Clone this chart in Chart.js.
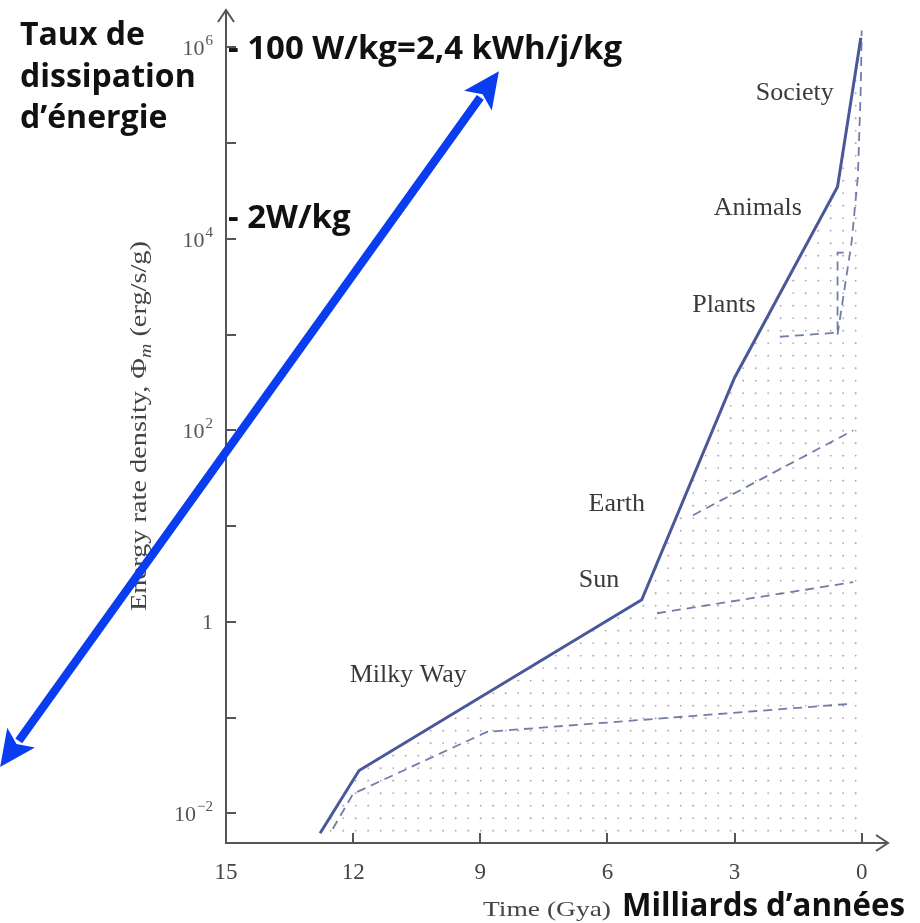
<!DOCTYPE html>
<html>
<head>
<meta charset="utf-8">
<script src="https://cdn.jsdelivr.net/npm/chart.js@4.4.1/dist/chart.umd.min.js"></script>
<style>
  html, body { margin: 0; padding: 0; background: #ffffff; }
  #wrap { width: 920px; height: 923px; }
</style>
</head>
<body>
<div id="wrap"><canvas id="c" width="920" height="923"></canvas></div>
<script>
// Time before present (Gya) and energy rate density (erg/s/g)
const mainTime   = [12.78, 11.86, 5.19, 3.0, 0.57, 0.02];
const mainRate   = [0.0062, 0.028, 1.7, 355, 35000, 1260000];
const galaxyTime = [12.48, 12.0, 8.84, 0.2];
const galaxyRate = [0.0069, 0.016, 0.071, 0.14];
const starTime   = [4.83, 0.2];
const starRate   = [1.23, 2.6];
const planetTime = [3.98, 0.2];
const planetRate = [13, 100];
const plantTime  = [1.93, 0.57, 0.57, 0.35];
const plantRate  = [950, 1050, 7200, 7200];
const animalTime = [0.57, 0.24, 0.09, 0.02, 0.0];
const animalRate = [1000, 9100, 44700, 400000, 1500000];

// Axis ticks
const xTicks = [15, 12, 9, 6, 3, 0];
const yDecades = [-2, -1, 0, 1, 2, 3, 4, 5, 6];
const yLabelExp = [-2, 0, 2, 4, 6];

// Stage names along the curve: [text, time, rate]
const stageNames = [
  ['Society', 1.58, 330000],
  ['Animals', 2.45, 21000],
  ['Plants', 3.25, 2040],
  ['Earth', 5.78, 17],
  ['Sun', 6.2, 2.7],
  ['Milky Way', 10.7, 0.28]
];
// Reference power levels marked on the rate axis
const powerMarks = [
  ['- 100 W/kg=2,4 kWh/j/kg', 1000000],
  ['- 2W/kg', 17000]
];
// Double-headed arrow ends: [time, rate]
const arrowEnds = [[20.33, Math.pow(10, -1.515)], [8.56, Math.pow(10, 5.75)]];

const pts = (t, r) => t.map((v, i) => ({ x: v, y: r[i] }));

// Stipple used to shade the region below the curve
const tile = document.createElement('canvas');
tile.width = 25; tile.height = 25;
const tc = tile.getContext('2d');
tc.fillStyle = 'rgba(70,72,95,0.55)';
tc.fillRect(5, 5, 1.4, 1.4);
tc.fillRect(17.5, 17.5, 1.4, 1.4);
tc.fillStyle = 'rgba(90,92,115,0.36)';
tc.fillRect(17, 5.2, 2.4, 1);
tc.fillRect(17.7, 4.5, 1, 2.4);
tc.fillRect(4.5, 17.7, 2.4, 1);
tc.fillRect(5.2, 17, 1, 2.4);
const stipple = tc.createPattern(tile, 'repeat');

const dashedStyle = {
  borderColor: 'rgba(105,118,165,0.95)',
  borderWidth: 1.8,
  borderDash: [9, 6],
  pointRadius: 0,
  fill: false,
  tension: 0
};

const SERIF = '"Liberation Serif", "Times New Roman", serif';
const SANS = '"Open Sans", Lato, sans-serif';

// draw text stretched horizontally to a given width
function fitText(ctx, txt, x, y, w) {
  const m = ctx.measureText(txt).width;
  ctx.save();
  ctx.translate(x, y);
  ctx.scale(w / m, 1);
  ctx.fillText(txt, 0, 0);
  ctx.restore();
}

const overlay = {
  id: 'overlay',
  afterDraw(chart) {
    const { ctx, chartArea: ca, scales } = chart;
    const xs = scales.x, ys = scales.y;
    ctx.save();

    // open arrowheads at the ends of both axes
    ctx.strokeStyle = '#555';
    ctx.lineWidth = 2;
    ctx.beginPath();
    ctx.moveTo(ca.right - 9, ca.bottom - 8);
    ctx.lineTo(ca.right + 3, ca.bottom);
    ctx.lineTo(ca.right - 9, ca.bottom + 8);
    ctx.moveTo(ca.left - 8, ca.top + 10);
    ctx.lineTo(ca.left, ca.top - 2);
    ctx.lineTo(ca.left + 8, ca.top + 10);
    ctx.stroke();

    // rate-axis tick labels with raised exponents
    ctx.fillStyle = '#555';
    ctx.textBaseline = 'alphabetic';
    ctx.textAlign = 'left';
    yLabelExp.forEach(e => {
      const py = ys.getPixelForValue(Math.pow(10, e));
      const right = ca.left - 13;
      if (e === 0) {
        ctx.font = '22px ' + SERIF;
        const w = ctx.measureText('1').width;
        ctx.fillText('1', right - w, py + 7.5);
        return;
      }
      const ex = e < 0 ? '−' + Math.abs(e) : String(e);
      ctx.font = '15px ' + SERIF;
      const we = ctx.measureText(ex).width;
      ctx.font = '22px ' + SERIF;
      const wb = ctx.measureText('10').width;
      const x0 = right - we - wb - 1;
      ctx.fillText('10', x0, py + 8);
      ctx.font = '15px ' + SERIF;
      ctx.fillText(ex, x0 + wb + 1, py - 2);
    });

    // stage names
    ctx.fillStyle = '#3a3a3a';
    ctx.font = '26px ' + SERIF;
    ctx.textAlign = 'center';
    ctx.textBaseline = 'middle';
    stageNames.forEach(([txt, t, r]) => {
      ctx.fillText(txt, xs.getPixelForValue(t), ys.getPixelForValue(r));
    });

    // power levels next to the rate axis
    ctx.fillStyle = '#111';
    ctx.font = 'bold 33px ' + SANS;
    ctx.textAlign = 'left';
    ctx.textBaseline = 'alphabetic';
    powerMarks.forEach(([txt, r]) => {
      ctx.fillText(txt, ca.left + 2, ys.getPixelForValue(r) + 11.5);
    });

    // French heading, top left
    ctx.font = 'bold 32px ' + SANS;
    ['Taux de', 'dissipation', 'd’énergie'].forEach((s, i) => {
      ctx.fillText(s, 20, 45 + i * 41.5);
    });

    // x-axis titles
    ctx.fillStyle = '#444';
    ctx.font = '22px ' + SERIF;
    ctx.textAlign = 'left';
    fitText(ctx, 'Time (Gya)', 483, 916, 128);
    ctx.fillStyle = '#111';
    ctx.font = 'bold 31.5px ' + SANS;
    fitText(ctx, 'Milliards d’années', 622, 916, 283);

    // y-axis title, rotated, with subscript m
    ctx.save();
    ctx.translate(146, 426);
    ctx.rotate(-Math.PI / 2);
    ctx.fillStyle = '#444';
    const partA = 'Energy rate density, Φ';
    const partC = ' (erg/s/g)';
    ctx.font = '23px ' + SERIF;
    const wA = ctx.measureText(partA).width;
    const wC = ctx.measureText(partC).width;
    ctx.font = 'italic 16px ' + SERIF;
    const wB = ctx.measureText('m').width;
    const total = wA + wB + wC;
    ctx.scale(370 / total, 1);
    const x0 = -total / 2;
    ctx.textAlign = 'left';
    ctx.textBaseline = 'alphabetic';
    ctx.font = '23px ' + SERIF;
    ctx.fillText(partA, x0, 0);
    ctx.font = 'italic 16px ' + SERIF;
    ctx.fillText('m', x0 + wA, 5);
    ctx.font = '23px ' + SERIF;
    ctx.fillText(partC, x0 + wA + wB, 0);
    ctx.restore();

    // blue double-headed arrow
    const ax = xs.getPixelForValue(arrowEnds[0][0]), ay = ys.getPixelForValue(arrowEnds[0][1]);
    const bx = xs.getPixelForValue(arrowEnds[1][0]), by = ys.getPixelForValue(arrowEnds[1][1]);
    const ang = Math.atan2(by - ay, bx - ax);
    const hl = 36, hw = 17;
    const ux = Math.cos(ang), uy = Math.sin(ang);
    ctx.strokeStyle = '#0a3cf0';
    ctx.fillStyle = '#0a3cf0';
    ctx.lineWidth = 8.5;
    ctx.lineCap = 'butt';
    ctx.beginPath();
    ctx.moveTo(ax + ux * (hl - 4), ay + uy * (hl - 4));
    ctx.lineTo(bx - ux * (hl - 4), by - uy * (hl - 4));
    ctx.stroke();
    const head = (tx, ty, dx, dy) => {
      const px = -dy, py = dx;
      ctx.beginPath();
      ctx.moveTo(tx, ty);
      ctx.lineTo(tx - dx * hl + px * hw, ty - dy * hl + py * hw);
      ctx.lineTo(tx - dx * hl * 0.78, ty - dy * hl * 0.78);
      ctx.lineTo(tx - dx * hl - px * hw, ty - dy * hl - py * hw);
      ctx.closePath();
      ctx.fill();
    };
    head(bx, by, ux, uy);
    head(ax, ay, -ux, -uy);

    ctx.restore();
  }
};

new Chart(document.getElementById('c'), {
  type: 'line',
  data: {
    datasets: [
      {
        data: pts(mainTime, mainRate),
        borderColor: '#4a5899',
        borderWidth: 3,
        pointRadius: 0,
        tension: 0,
        fill: 'start',
        backgroundColor: stipple
      },
      Object.assign({ data: pts(galaxyTime, galaxyRate) }, dashedStyle),
      Object.assign({ data: pts(starTime, starRate) }, dashedStyle),
      Object.assign({ data: pts(planetTime, planetRate) }, dashedStyle),
      Object.assign({ data: pts(plantTime, plantRate) }, dashedStyle),
      Object.assign({ data: pts(animalTime, animalRate) }, dashedStyle)
    ]
  },
  options: {
    responsive: false,
    animation: false,
    devicePixelRatio: 1,
    layout: { padding: { left: 0, right: 35, top: 12, bottom: 0 } },
    plugins: { legend: { display: false }, tooltip: { enabled: false } },
    scales: {
      x: {
        type: 'linear',
        reverse: true,
        min: -0.55,
        max: 15,
        bounds: 'data',
        afterBuildTicks(s) { s.ticks = xTicks.map(v => ({ value: v })); },
        afterFit(s) { s.height = 80; s.paddingLeft = 0; s.paddingRight = 0; },
        grid: { display: true, drawOnChartArea: false, drawTicks: true, tickLength: -10, color: '#555', lineWidth: 2 },
        border: { display: true, color: '#555', width: 2 },
        ticks: {
          padding: 26,
          autoSkip: false,
          maxRotation: 0,
          color: '#444',
          font: { family: 'Liberation Serif', size: 23 },
          callback: v => String(v)
        }
      },
      y: {
        type: 'logarithmic',
        min: Math.pow(10, -2.31),
        max: Math.pow(10, 6.37),
        bounds: 'data',
        afterBuildTicks(s) { s.ticks = yDecades.map(e => ({ value: Math.pow(10, e) })); },
        afterFit(s) { s.width = 226; s.paddingTop = 0; s.paddingBottom = 0; },
        grid: { display: true, drawOnChartArea: false, drawTicks: true, tickLength: -10, color: '#555', lineWidth: 2 },
        border: { display: true, color: '#555', width: 2 },
        ticks: { display: false }
      }
    }
  },
  plugins: [overlay]
});
</script>
</body>
</html>
